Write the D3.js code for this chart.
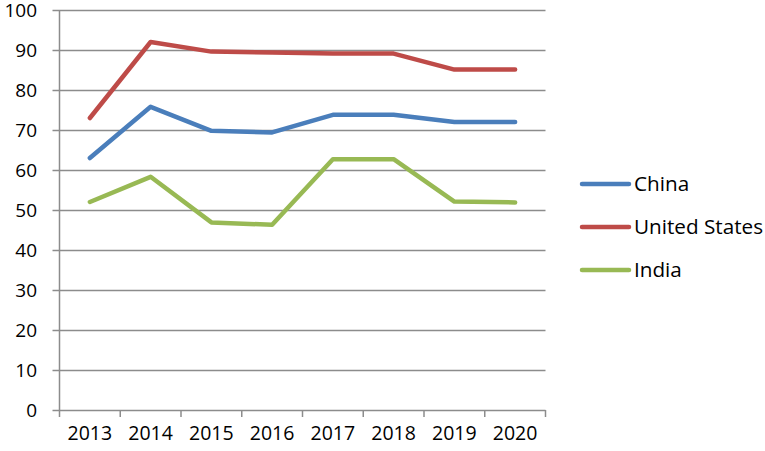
<!DOCTYPE html>
<html><head><meta charset="utf-8">
<script src="https://cdn.jsdelivr.net/npm/d3@7"></script>
<style>body{margin:0;background:#fff}</style>
</head><body>
<svg id="c" width="765" height="451"></svg>
<script>
const years = ["2013","2014","2015","2016","2017","2018","2019","2020"];
const china = [63.0, 75.8, 69.8, 69.4, 73.8, 73.8, 72.0, 72.0];
const unitedStates = [73.0, 92.0, 89.6, 89.4, 89.1, 89.1, 85.1, 85.1];
const india = [52.0, 58.3, 46.9, 46.3, 62.7, 62.7, 52.1, 51.9];
const seriesNames = ["China", "United States", "India"];
const yTicks = [0,10,20,30,40,50,60,70,80,90,100];

const series = [
  {name: seriesNames[0], values: china, color: "#4A7EBB"},
  {name: seriesNames[1], values: unitedStates, color: "#BE4B48"},
  {name: seriesNames[2], values: india, color: "#98B954"}
];

const svg = d3.select("#c");
const font = "'Open Sans', sans-serif";
const L = 59.5, R = 545.5, T = 10, B = 410;
const x = d3.scaleBand().domain(years).range([L, R]);
const y = d3.scaleLinear().domain([0, 100]).range([B, T]);

svg.append("g").selectAll("line").data(yTicks).join("line")
  .attr("x1", L - 7).attr("x2", R)
  .attr("y1", d => Math.round(y(d)) + 0.5).attr("y2", d => Math.round(y(d)) + 0.5)
  .attr("stroke", "#8c8c8c").attr("stroke-width", 1.5);

svg.append("line").attr("x1", L).attr("x2", L).attr("y1", T).attr("y2", B + 7)
  .attr("stroke", "#8c8c8c").attr("stroke-width", 1.5);

const bounds = years.map(d => x(d)).concat([R]);
svg.append("g").selectAll("line").data(bounds.slice(1)).join("line")
  .attr("x1", d => d).attr("x2", d => d).attr("y1", B).attr("y2", B + 7)
  .attr("stroke", "#8c8c8c").attr("stroke-width", 1.5);

svg.append("g").selectAll("text").data(yTicks).join("text")
  .attr("x", 37).attr("y", d => y(d)).attr("dy", "0.36em")
  .attr("text-anchor", "end").attr("font-family", font).attr("font-size", 19)
  .attr("fill", "#000").text(d => d);

svg.append("g").selectAll("text").data(years).join("text")
  .attr("x", d => x(d) + x.bandwidth() / 2).attr("y", 440)
  .attr("text-anchor", "middle").attr("font-family", font).attr("font-size", 19.5)
  .attr("fill", "#000").text(d => d);

const line = d3.line().x((d, i) => x(years[i]) + x.bandwidth() / 2).y(d => y(d));
svg.append("g").selectAll("path").data(series).join("path")
  .attr("d", d => line(d.values)).attr("fill", "none")
  .attr("stroke", d => d.color).attr("stroke-width", 4.5)
  .attr("stroke-linejoin", "round").attr("stroke-linecap", "round");

const lg = svg.append("g").selectAll("g").data(series).join("g")
  .attr("transform", (d, i) => `translate(0,${184 + i * 43})`);
lg.append("line").attr("x1", 582).attr("x2", 629).attr("y1", 0).attr("y2", 0)
  .attr("stroke", d => d.color).attr("stroke-width", 4.5).attr("stroke-linecap", "round");
lg.append("text").attr("x", 634).attr("y", 0).attr("dy", "0.36em")
  .attr("font-family", font).attr("font-size", 20.7).attr("fill", "#000")
  .text(d => d.name);
</script>
</body></html>
